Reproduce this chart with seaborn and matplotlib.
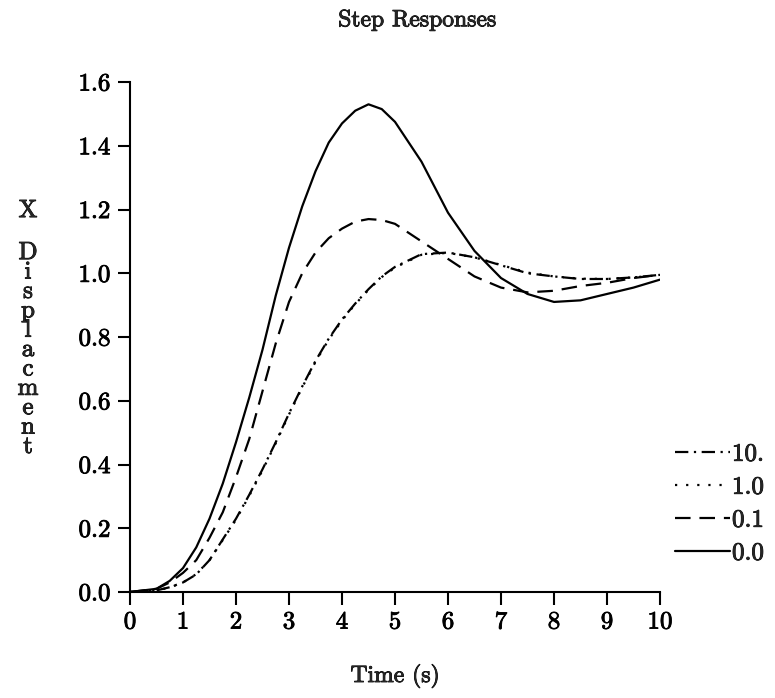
import matplotlib
matplotlib.use("Agg")
import matplotlib.pyplot as plt
import matplotlib.patheffects as pe
import seaborn as sns
import pandas as pd

time_s = [0.0, 0.5, 0.75, 1.0, 1.25, 1.5, 1.75, 2.0, 2.25, 2.5, 2.75, 3.0, 3.25, 3.5,
          3.75, 4.0, 4.25, 4.5, 4.75, 5.0, 5.5, 6.0, 6.5, 7.0, 7.5, 8.0, 8.5, 9.0, 9.5, 10.0]

resp_10 = [0.0, 0.005, 0.015, 0.03, 0.055, 0.10, 0.165, 0.23, 0.305, 0.385, 0.47, 0.56, 0.645, 0.725,
           0.795, 0.855, 0.905, 0.95, 0.99, 1.02, 1.06, 1.065, 1.05, 1.025, 1.0, 0.99, 0.982, 0.982, 0.987, 0.995]
resp_1 = [0.0, 0.005, 0.014, 0.03, 0.056, 0.10, 0.163, 0.227, 0.302, 0.382, 0.467, 0.557, 0.642, 0.722,
          0.792, 0.852, 0.903, 0.948, 0.988, 1.018, 1.058, 1.064, 1.05, 1.026, 1.002, 0.99, 0.983, 0.982, 0.987, 0.994]
resp_01 = [0.0, 0.01, 0.03, 0.06, 0.10, 0.17, 0.25, 0.36, 0.48, 0.63, 0.78, 0.91, 1.00, 1.065,
           1.11, 1.14, 1.162, 1.17, 1.167, 1.155, 1.10, 1.045, 0.99, 0.955, 0.94, 0.945, 0.96, 0.97, 0.985, 0.995]
resp_00 = [0.0, 0.01, 0.035, 0.075, 0.14, 0.23, 0.34, 0.47, 0.61, 0.76, 0.93, 1.08, 1.21, 1.32,
           1.41, 1.47, 1.51, 1.53, 1.515, 1.475, 1.35, 1.19, 1.07, 0.985, 0.935, 0.91, 0.915, 0.935, 0.955, 0.98]

labels = ["10.", "1.0", "0.1", "0.0"]
series = [resp_10, resp_1, resp_01, resp_00]
styles = [(0, (6, 2.5, 1, 2.5)), (0, (1, 4)), (0, (7, 4)), "-"]

x_ticks = list(range(0, 11))
y_ticks = [0.0, 0.2, 0.4, 0.6, 0.8, 1.0, 1.2, 1.4, 1.6]

sns.set_style("ticks")
plt.rcParams["font.family"] = ["cmr10", "DejaVu Serif"]
plt.rcParams["axes.formatter.use_mathtext"] = True
plt.rcParams["mathtext.fontset"] = "cm"

thick = [pe.withStroke(linewidth=0.6, foreground="black")]

fig = plt.figure(figsize=(7.75, 6.98), dpi=100)
ax = fig.add_axes([130 / 775, 106 / 698, 530 / 775, 510 / 698])

for lab, vals, ls in zip(labels, series, styles):
    df = pd.DataFrame({"t": time_s, "v": vals})
    sns.lineplot(data=df, x="t", y="v", ax=ax, color="black", linewidth=1.6,
                 linestyle=ls, label=lab)

ax.set_xlim(0, 10)
ax.set_ylim(0, 1.6)
ax.set_xticks(x_ticks)
ax.set_xticklabels([str(v) for v in x_ticks])
ax.set_yticks(y_ticks)
ax.set_yticklabels([f"{v:.1f}" for v in y_ticks])
for s in ["top", "right"]:
    ax.spines[s].set_visible(False)
for s in ["left", "bottom"]:
    ax.spines[s].set_linewidth(1.5)
    ax.spines[s].set_color("black")
ax.tick_params(direction="out", length=9, width=1.5, labelsize=18, colors="black", pad=5)
for t in ax.get_xticklabels() + ax.get_yticklabels():
    t.set_path_effects(thick)
ax.set_xlabel("")
ax.set_ylabel("")

txts = []
txts.append(fig.text(395 / 775, 1 - 676 / 698, "Time (s)", ha="center", va="center", fontsize=17))
txts.append(fig.text(417 / 775, 1 - 20 / 698, "Step Responses", ha="center", va="center", fontsize=17))
txts.append(fig.text(28 / 775, 1 - 211 / 698, "X", ha="center", va="center", fontsize=18))
txts.append(fig.text(28 / 775, 1 - 242 / 698, "\n".join("Displacment"), ha="center", va="top",
                     fontsize=18, linespacing=0.84))

leg = ax.legend(loc="center left", bbox_to_anchor=(662 / 775, 1 - 504 / 698),
                bbox_transform=fig.transFigure, frameon=False, fontsize=18,
                handlelength=2.2, handletextpad=0.1, labelspacing=0.42, borderpad=0)
for line in leg.get_lines():
    line.set_linewidth(1.6)
for t in leg.get_texts():
    t.set_path_effects(thick)
for t in txts:
    t.set_path_effects(thick)

fig.savefig("out.png", dpi=100)
